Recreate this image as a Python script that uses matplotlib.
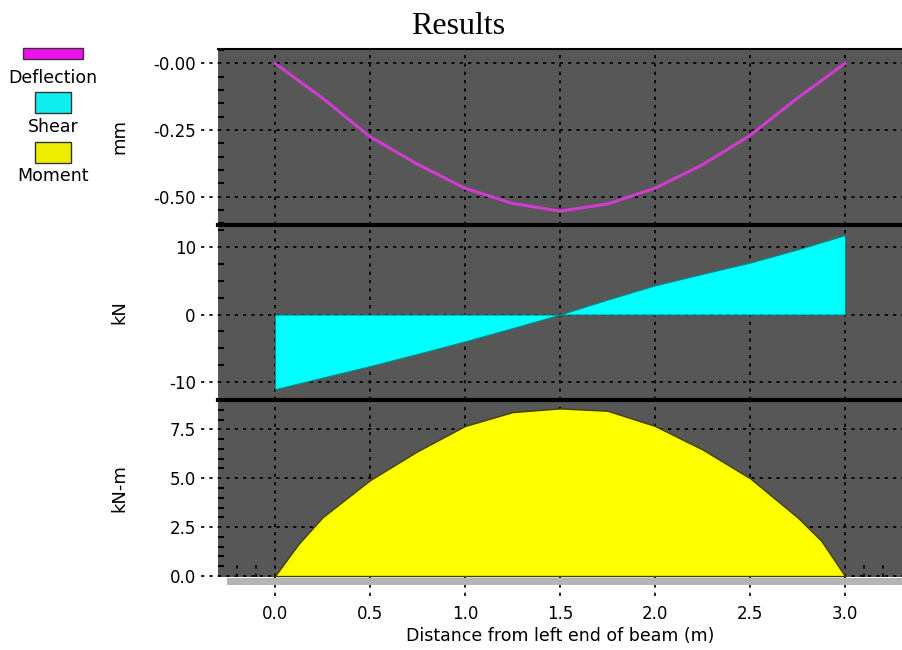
import matplotlib
matplotlib.use("Agg")
import matplotlib.pyplot as plt
from matplotlib.patches import Rectangle
from matplotlib.ticker import MultipleLocator
import matplotlib.transforms as mtrans

plt.rcParams['font.family'] = ['DejaVu Sans']

# ---------------- data ----------------
x_defl = [0.0, 0.25, 0.5, 0.75, 1.0, 1.25, 1.5, 1.75, 2.0, 2.25, 2.5, 2.75, 3.0]
deflection = [0.0, -0.13, -0.275, -0.378, -0.468, -0.525, -0.554, -0.527, -0.468, -0.38, -0.27, -0.13, 0.0]

x_shear = [0.0, 0.25, 0.5, 0.75, 1.0, 1.25, 1.5, 1.75, 2.0, 2.25, 2.5, 2.75, 3.0]
shear = [-11.0, -9.3, -7.6, -5.8, -3.95, -2.0, 0.0, 2.2, 4.3, 6.0, 7.65, 9.6, 11.7]

x_moment = [0.0, 0.125, 0.25, 0.5, 0.75, 1.0, 1.25, 1.5, 1.75, 2.0, 2.25, 2.5, 2.75, 2.875, 3.0]
moment = [0.0, 1.65, 3.0, 4.9, 6.38, 7.67, 8.38, 8.57, 8.45, 7.67, 6.47, 5.0, 3.0, 1.8, 0.0]

x_ticks = [0.0, 0.5, 1.0, 1.5, 2.0, 2.5, 3.0]
x_ticklabels = ["0.0", "0.5", "1.0", "1.5", "2.0", "2.5", "3.0"]
defl_ticks = [0.0, -0.25, -0.5]
defl_ticklabels = ["-0.00", "-0.25", "-0.50"]
shear_ticks = [10, 0, -10]
shear_ticklabels = ["10", "0", "-10"]
mom_ticks = [0.0, 2.5, 5.0, 7.5]
mom_ticklabels = ["0.0", "2.5", "5.0", "7.5"]

legend_labels = ["Deflection", "Shear", "Moment"]
legend_colors = ["#ee11ee", "#11eeee", "#eeee00"]

# ---------------- figure ----------------
W, H = 902, 650
fig = plt.figure(figsize=(W / 100, H / 100), dpi=100)

def fr(y):
    return 1 - y / H

left = 218 / W
width = 1 - left
panels = [(49, 225), (225, 400), (400, 577)]
axes = []
for top, bot in panels:
    ax = fig.add_axes([left, fr(bot), width, (bot - top) / H])
    axes.append(ax)

bg = "#575757"
ax1, ax2, ax3 = axes

ax1.plot(x_defl, deflection, color="#d03cd0", lw=2.2, zorder=3)
ax1.set_ylim(-0.606, 0.054)
ax1.set_yticks(defl_ticks)
ax1.set_yticklabels(defl_ticklabels)
ax1.yaxis.set_minor_locator(MultipleLocator(0.05))
ax1.set_ylabel("mm")

ax2.fill_between(x_shear, shear, 0, color="#00ffff", lw=0.8, edgecolor="#0a8a8a", zorder=3)
ax2.set_ylim(-12.6, 13.2)
ax2.set_yticks(shear_ticks)
ax2.set_yticklabels(shear_ticklabels)
ax2.yaxis.set_minor_locator(MultipleLocator(2.5))
ax2.set_ylabel("kN")

ax3.fill_between(x_moment, moment, 0, color="#ffff00", lw=1.0, edgecolor="#444400", zorder=3)
ax3.set_ylim(-0.05, 9.0)
ax3.set_yticks(mom_ticks)
ax3.set_yticklabels(mom_ticklabels)
ax3.yaxis.set_minor_locator(MultipleLocator(0.5))
ax3.set_ylabel("kN-m")

for i, ax in enumerate(axes):
    ax.set_facecolor(bg)
    ax.set_xlim(-0.3, 3.3)
    ax.set_xticks(x_ticks)
    ax.grid(True, which="major", color="black", linestyle=(0, (2, 3)), lw=1.2, zorder=1)
    ax.set_axisbelow(True)
    ax.tick_params(axis="y", which="major", length=0, pad=16, labelsize=12)
    ax.tick_params(axis="y", which="minor", direction="in", length=4,
                   width=1.5, color="black", pad=16)
    ax.yaxis.label.set_size(13)
    for s in ["left", "right", "bottom", "top"]:
        ax.spines[s].set_visible(False)
    ax.spines["top"].set_visible(True)
    ax.spines["top"].set_color("black")
    ax.spines["top"].set_linewidth(3 if i > 0 else 1.5)
    bt = mtrans.blended_transform_factory(ax.transAxes, ax.transData)
    for v in ax.get_yticks():
        ax.plot([-0.025, 0.0], [v, v], transform=bt, color="black",
                linestyle=(0, (2, 3)), lw=1.2, clip_on=False, zorder=5)
    if i < 2:
        ax.tick_params(axis="x", length=0, labelbottom=False)
    ax.yaxis.set_label_coords(-0.131, 0.5)

ax3.tick_params(axis="x", length=0, pad=20, labelsize=12)
ax3.set_xticklabels(x_ticklabels)
ax3.set_xlabel("Distance from left end of beam (m)", fontsize=12.5, labelpad=3)
btx = mtrans.blended_transform_factory(ax3.transData, ax3.transAxes)
for v in x_ticks:
    ax3.plot([v, v], [-0.11, 0.0], transform=btx, color="black",
             linestyle=(0, (2, 3)), lw=1.2, clip_on=False, zorder=0)
for v in [-0.2, -0.1, 3.1, 3.2]:
    ax3.plot([v, v], [0.0, 0.07], transform=btx, color="black",
             linestyle=(0, (2, 3)), lw=1.2, clip_on=False, zorder=2)

fig.patches.append(Rectangle((227 / W, fr(585)), 1 - 227 / W, 7 / H,
                             transform=fig.transFigure, facecolor="#b4b4b4",
                             edgecolor="none", zorder=0))

fig.text(458 / W, fr(27), "Results", ha="center", va="center",
         fontsize=23, family=["Liberation Serif", "DejaVu Serif"])

sw = [(23, 48, 60, 11), (35, 92, 36, 21), (35, 142, 36, 21)]
ty = [78, 127, 176]
for (x0, y0, w, h), c, lab, t in zip(sw, legend_colors, legend_labels, ty):
    fig.patches.append(Rectangle((x0 / W, fr(y0 + h)), w / W, h / H,
                                 transform=fig.transFigure, facecolor=c,
                                 edgecolor="#333333", lw=1.0))
    fig.text(53 / W, fr(t), lab, ha="center", va="center", fontsize=12.5)

fig.savefig("out.png", dpi=100, facecolor="white")
